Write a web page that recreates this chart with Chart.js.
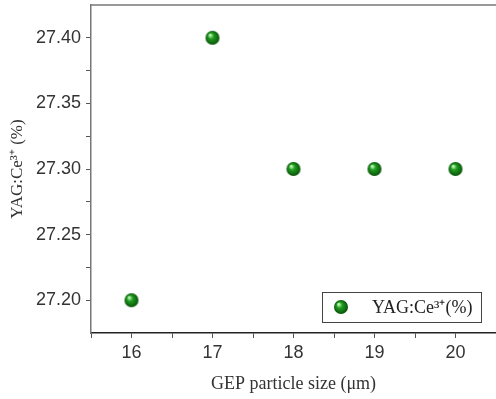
<!DOCTYPE html>
<html>
<head>
<meta charset="utf-8">
<script src="https://cdn.jsdelivr.net/npm/chart.js@4"></script>
<style>
  html, body { margin: 0; padding: 0; background: #fff; }
  #wrap { width: 496px; height: 399px; }
</style>
</head>
<body>
<div id="wrap"><canvas id="chart" width="496" height="399"></canvas></div>
<script>
// Data
const particleSizes = [16, 17, 18, 19, 20];
const cePercent = [27.20, 27.40, 27.30, 27.30, 27.30];
const seriesLabel = 'YAG:Ce\u00B3\u207A(%)';
const xTitle = 'GEP particle size (\u03BCm)';
const yTitle = 'YAG:Ce\u00B3\u207A (%)';

// Shaded green ball used as the marker
function makeBall(r) {
    const c = document.createElement('canvas');
    c.width = c.height = r * 2 + 2;
    const g = c.getContext('2d');
    const cx = r + 1, cy = r + 1;
    const grad = g.createRadialGradient(cx - r * 0.35, cy - r * 0.4, r * 0.1, cx, cy, r);
    grad.addColorStop(0, '#c0f5b8');
    grad.addColorStop(0.35, '#1f9d1f');
    grad.addColorStop(1, '#0a520a');
    g.fillStyle = grad;
    g.beginPath();
    g.arc(cx, cy, r, 0, Math.PI * 2);
    g.fill();
    return c;
}
const ball = makeBall(7);

function isMajor(v, per) {
    return Math.abs(v * per - Math.round(v * per)) < 1e-6;
}

// Top frame line and in-plot legend
const framePlugin = {
    id: 'frame',
    afterDraw(chart) {
        const { ctx, chartArea } = chart;
        ctx.save();
        ctx.strokeStyle = '#777';
        ctx.lineWidth = 1.5;
        ctx.beginPath();
        ctx.moveTo(chartArea.left - 1, chartArea.top);
        ctx.lineTo(chartArea.right, chartArea.top);
        ctx.stroke();

        // legend box
        const bx = 322, by = 292, bw = 159, bh = 30;
        ctx.fillStyle = '#fff';
        ctx.fillRect(bx, by, bw, bh);
        ctx.strokeStyle = '#444';
        ctx.lineWidth = 1;
        ctx.strokeRect(bx + 0.5, by + 0.5, bw, bh);
        ctx.drawImage(ball, bx + 11, by + 7);
        ctx.fillStyle = '#222';
        ctx.font = '18px "Liberation Serif", serif';
        ctx.textBaseline = 'middle';
        ctx.fillText(chart.data.datasets[0].label, bx + 50, by + bh / 2 + 1);
        ctx.restore();
    }
};

const ctx = document.getElementById('chart').getContext('2d');
new Chart(ctx, {
    type: 'scatter',
    data: {
        datasets: [{
            label: seriesLabel,
            data: particleSizes.map((x, i) => ({ x: x, y: cePercent[i] })),
            pointStyle: ball,
            pointRadius: 7,
            pointHoverRadius: 7
        }]
    },
    options: {
        responsive: false,
        animation: false,
        layout: { autoPadding: false, padding: { top: 5, right: 0, left: 0, bottom: 0 } },
        plugins: {
            legend: { display: false },
            tooltip: { enabled: false }
        },
        scales: {
            x: {
                type: 'linear',
                min: 15.5,
                max: 20.5,
                afterFit(scale) {
                    scale.height = 66;
                    scale.paddingLeft = 0;
                    scale.paddingRight = 0;
                },
                border: { color: '#222', width: 1.5 },
                grid: {
                    drawOnChartArea: false,
                    tickLength: 5,
                    color: '#555'
                },
                ticks: {
                    stepSize: 0.5,
                    padding: 4,
                    color: '#333',
                    font: { family: '"Liberation Sans", Arial, sans-serif', size: 18 },
                    callback: v => isMajor(v, 1) ? String(v) : ''
                },
                title: {
                    display: true,
                    text: xTitle,
                    color: '#333',
                    padding: { top: 4, bottom: 4 },
                    font: { family: '"Liberation Serif", serif', size: 18 }
                }
            },
            y: {
                min: 27.175,
                max: 27.425,
                afterFit(scale) {
                    scale.width = 91;
                    scale.paddingTop = 0;
                    scale.paddingBottom = 0;
                },
                border: { color: '#777', width: 1.5 },
                grid: {
                    drawOnChartArea: false,
                    tickLength: 5,
                    color: ctx => (ctx.tick && (Math.abs(ctx.tick.value - 27.175) < 1e-6 || Math.abs(ctx.tick.value - 27.425) < 1e-6)) ? 'rgba(0,0,0,0)' : '#555'
                },
                ticks: {
                    stepSize: 0.025,
                    padding: 5,
                    color: '#333',
                    font: { family: '"Liberation Sans", Arial, sans-serif', size: 18 },
                    callback: v => isMajor(v, 20) ? v.toFixed(2) : ''
                },
                title: {
                    display: true,
                    text: yTitle,
                    color: '#333',
                    padding: { top: 7, bottom: 0 },
                    font: { family: '"Liberation Serif", serif', size: 17 }
                }
            }
        }
    },
    plugins: [framePlugin]
});
</script>
</body>
</html>
